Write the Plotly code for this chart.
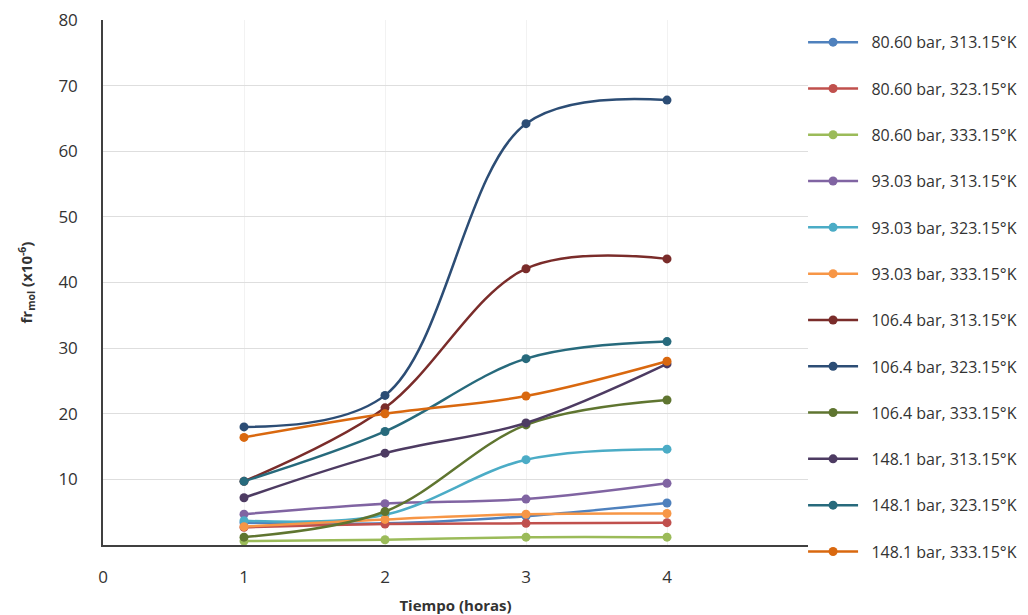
import plotly.graph_objects as go

horas = [1, 2, 3, 4]

series_names = [
    "80.60 bar, 313.15°K", "80.60 bar, 323.15°K", "80.60 bar, 333.15°K",
    "93.03 bar, 313.15°K", "93.03 bar, 323.15°K", "93.03 bar, 333.15°K",
    "106.4 bar, 313.15°K", "106.4 bar, 323.15°K", "106.4 bar, 333.15°K",
    "148.1 bar, 313.15°K", "148.1 bar, 323.15°K", "148.1 bar, 333.15°K",
]

s_80_313 = [3.4, 3.3, 4.4, 6.4]
s_80_323 = [2.7, 3.2, 3.3, 3.4]
s_80_333 = [0.6, 0.8, 1.2, 1.2]
s_93_313 = [4.7, 6.3, 7.0, 9.4]
s_93_323 = [3.7, 4.6, 13.0, 14.6]
s_93_333 = [2.8, 3.9, 4.7, 4.8]
s_106_313 = [9.7, 20.9, 42.1, 43.6]
s_106_323 = [18.0, 22.8, 64.2, 67.8]
s_106_333 = [1.2, 5.1, 18.3, 22.1]
s_148_313 = [7.2, 14.0, 18.6, 27.6]
s_148_323 = [9.7, 17.3, 28.4, 31.0]
s_148_333 = [16.4, 20.0, 22.7, 28.0]

values = [s_80_313, s_80_323, s_80_333, s_93_313, s_93_323, s_93_333,
          s_106_313, s_106_323, s_106_333, s_148_313, s_148_323, s_148_333]

colors = ["#4F81BD", "#C0504D", "#9BBB59", "#8064A2", "#4BACC6", "#F79646",
          "#7A2C2A", "#2C4D75", "#5F7530", "#4D3B62", "#276A7C", "#D9680F"]

y_ticks = [10, 20, 30, 40, 50, 60, 70, 80]
x_ticks = [0, 1, 2, 3, 4]

fig = go.Figure()
for i, (name, vals, col) in enumerate(zip(series_names, values, colors)):
    fig.add_trace(go.Scatter(
        x=horas, y=vals, name="\u00a0\u00a0" + name, mode="lines+markers",
        line=dict(color=col, width=2.5, shape="spline", smoothing=1.0),
        marker=dict(color=col, size=9),
        legendgroup=f"g{i}",
    ))

fig.update_layout(
    width=1028, height=615,
    margin=dict(l=103, r=220, t=20, b=70, autoexpand=False),
    paper_bgcolor="white", plot_bgcolor="white",
    font=dict(family="Open Sans, Liberation Sans, sans-serif", color="#404040"),
    showlegend=True,
    legend=dict(
        x=0.993, xanchor="left", y=0.99, yanchor="top",
        font=dict(size=16, color="#333333"),
        tracegroupgap=22.5, itemwidth=50, maxheight=615,
        bgcolor="rgba(0,0,0,0)",
    ),
    xaxis=dict(
        range=[0, 5], tickvals=x_ticks, ticktext=[str(v) for v in x_ticks],
        showgrid=True, gridcolor="#f2f2f2", gridwidth=1,
        showline=True, linecolor="#404040", linewidth=1.5,
        zeroline=False, ticks="", ticklabelstandoff=16, automargin=False,
        tickfont=dict(size=17, color="#333333"),
        title=dict(text="<b>Tiempo (horas)</b>", font=dict(size=15, color="#333333"), standoff=14),
    ),
    yaxis=dict(
        range=[0, 80], tickvals=y_ticks, ticktext=[str(v) for v in y_ticks],
        showgrid=True, gridcolor="#dedede", gridwidth=1,
        showline=True, linecolor="#404040", linewidth=1.5,
        zeroline=False, ticks="", ticklabelstandoff=20, automargin=False,
        tickfont=dict(size=17, color="#333333"),
        title=dict(text="<b>fr<sub>mol</sub> (x10<sup>-6</sup>)</b>", font=dict(size=15, color="#333333"), standoff=22),
    ),
)

fig.write_html("out.html")
